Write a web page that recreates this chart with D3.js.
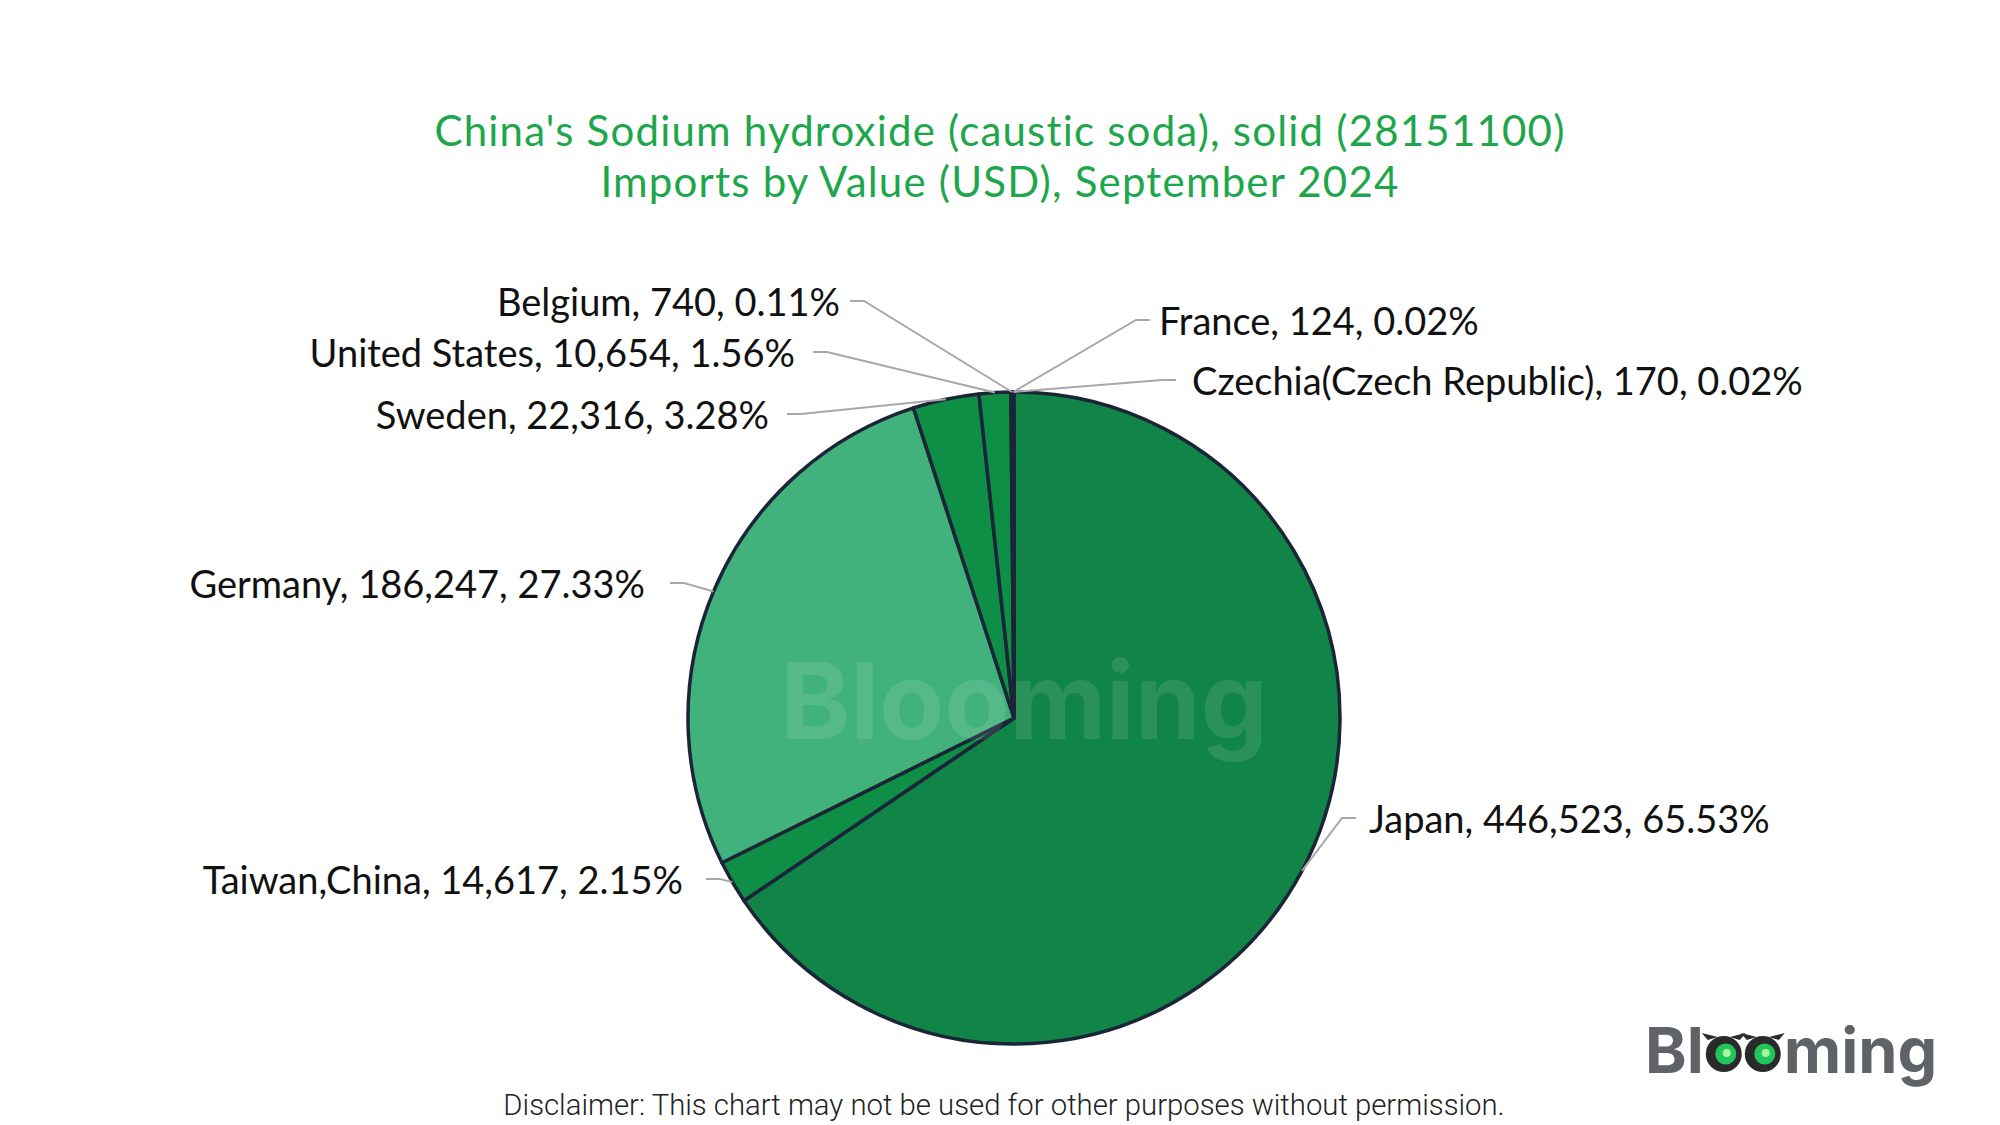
<!DOCTYPE html>
<html>
<head>
<meta charset="utf-8">
<script src="https://cdn.jsdelivr.net/npm/d3@7"></script>
<style>
  body { margin: 0; background: #fff; }
  svg { display: block; }
</style>
</head>
<body>
<svg width="2000" height="1125"></svg>
<script>
// Data: import value (USD) by partner
const countries = ['Japan', 'Taiwan,China', 'Germany', 'Sweden', 'United States', 'Belgium', 'France', 'Czechia(Czech Republic)'];
const values = [446523, 14617, 186247, 22316, 10654, 740, 124, 170];
const sliceColors = ['#118547', '#0f8f45', '#42b27d', '#0f8f45', '#0f8f45', '#0f8f45', '#0f8f45', '#0f8f45'];

const titleLines = ["China's Sodium hydroxide (caustic soda), solid (28151100)", 'Imports by Value (USD), September 2024'];
const disclaimer = 'Disclaimer: This chart may not be used for other purposes without permission.';

// label layout (not data): [leader end x, y, text x]
const labelPos = {
    'Japan': [1356, 818, 1369],
    'Taiwan,China': [706, 879, 683],
    'Germany': [670, 583, 645],
    'Sweden': [787, 414, 769],
    'United States': [813, 352, 795],
    'Belgium': [850, 301, 840],
    'France': [1150, 320, 1159],
    'Czechia(Czech Republic)': [1176, 380, 1192]
};

const svg = d3.select('svg');
const cx = 1014, cy = 718, r = 326;
const total = d3.sum(values);
const fmtNum = d3.format(',');
const fmtPct = d3.format('.2%');

const slices = countries.map((c, i) => ({name: c, value: values[i], color: sliceColors[i]}));

// title, one text block with a line per tspan
svg.append('text')
    .attr('text-anchor', 'middle')
    .attr('font-family', 'Lato, sans-serif')
    .attr('font-size', 42)
    .attr('letter-spacing', 1.2)
    .attr('fill', '#1ea64b')
    .selectAll('tspan').data(titleLines)
    .enter().append('tspan')
    .attr('x', 1000)
    .attr('y', (d, i) => 146 + i * 51)
    .text(d => d);

const pie = d3.pie().sort(null).value(d => d.value);
const arc = d3.arc().innerRadius(0).outerRadius(r);
const arcs = pie(slices);

const g = svg.append('g').attr('transform', `translate(${cx},${cy})`);

g.selectAll('path').data(arcs)
    .enter().append('path')
    .attr('d', arc)
    .attr('fill', d => d.data.color)
    .attr('stroke', '#1b2538')
    .attr('stroke-width', 3.5)
    .attr('stroke-linejoin', 'round');

// watermark
svg.append('text')
    .attr('x', 1024)
    .attr('y', 700)
    .attr('text-anchor', 'middle')
    .attr('dominant-baseline', 'central')
    .attr('font-family', 'Inter, sans-serif')
    .attr('font-weight', 700)
    .attr('font-size', 106)
    .attr('fill', '#ffffff')
    .attr('fill-opacity', 0.1)
    .text('Blooming');

// leader lines start on the rim at each slice's middle angle
function edgePoint(d) {
    const a = (d.startAngle + d.endAngle) / 2;
    return [cx + Math.sin(a) * r, cy - Math.cos(a) * r];
}

const labels = svg.append('g');
arcs.forEach(d => {
    const p = labelPos[d.data.name];
    const end = [p[0], p[1]];
    const left = end[0] < cx;
    const elbow = [end[0] + (left ? 14 : -14), end[1]];
    labels.append('path')
        .attr('d', d3.line()([edgePoint(d), elbow, end]))
        .attr('fill', 'none')
        .attr('stroke', '#a8a8a8')
        .attr('stroke-width', 2);
    labels.append('text')
        .attr('x', p[2])
        .attr('y', p[1])
        .attr('text-anchor', left ? 'end' : 'start')
        .attr('dominant-baseline', 'central')
        .attr('font-family', 'Lato, sans-serif')
        .attr('font-size', 38)
        .attr('fill', '#111')
        .text(`${d.data.name}, ${fmtNum(d.data.value)}, ${fmtPct(d.data.value / total)}`);
});

// logo, bottom right
const logo = svg.append('g').attr('transform', 'translate(1645,1073)');
const logoFont = {family: 'Inter, sans-serif', size: 63, weight: 700};
const part1 = logo.append('text')
    .attr('font-family', logoFont.family)
    .attr('font-size', logoFont.size)
    .attr('font-weight', logoFont.weight)
    .attr('fill', '#5f6266')
    .text('Bl');
let lx = part1.node().getComputedTextLength() + 2;
const eyeR = 18;
[0, 1].forEach(k => {
    const ex = lx + eyeR + k * (eyeR * 2 + 3);
    const ey = -eyeR - 1;
    logo.append('path')
        .attr('d', `M${ex - eyeR + 2},${ey - eyeR + 4} L${ex - eyeR - 4},${ey - eyeR - 3} L${ex - 6},${ey - eyeR + 1} Z`)
        .attr('fill', '#2a2a2a');
    logo.append('path')
        .attr('d', `M${ex + eyeR - 2},${ey - eyeR + 4} L${ex + eyeR + 4},${ey - eyeR - 3} L${ex + 6},${ey - eyeR + 1} Z`)
        .attr('fill', '#2a2a2a');
    logo.append('circle').attr('cx', ex).attr('cy', ey).attr('r', eyeR).attr('fill', '#2a2a2a');
    logo.append('circle').attr('cx', ex + 2).attr('cy', ey).attr('r', 10.5).attr('fill', '#22c55a');
    logo.append('circle').attr('cx', ex + 3).attr('cy', ey - 1).attr('r', 4).attr('fill', '#a6f5a0');
});
logo.append('text')
    .attr('x', lx + eyeR * 4 + 6)
    .attr('font-family', logoFont.family)
    .attr('font-size', logoFont.size)
    .attr('font-weight', logoFont.weight)
    .attr('fill', '#5f6266')
    .text('ming');

// disclaimer
svg.append('text')
    .attr('x', 1004)
    .attr('y', 1105)
    .attr('text-anchor', 'middle')
    .attr('dominant-baseline', 'central')
    .attr('font-family', 'Roboto, sans-serif')
    .attr('font-weight', 300)
    .attr('font-size', 29.3)
    .attr('fill', '#222')
    .text(disclaimer);
</script>
</body>
</html>
